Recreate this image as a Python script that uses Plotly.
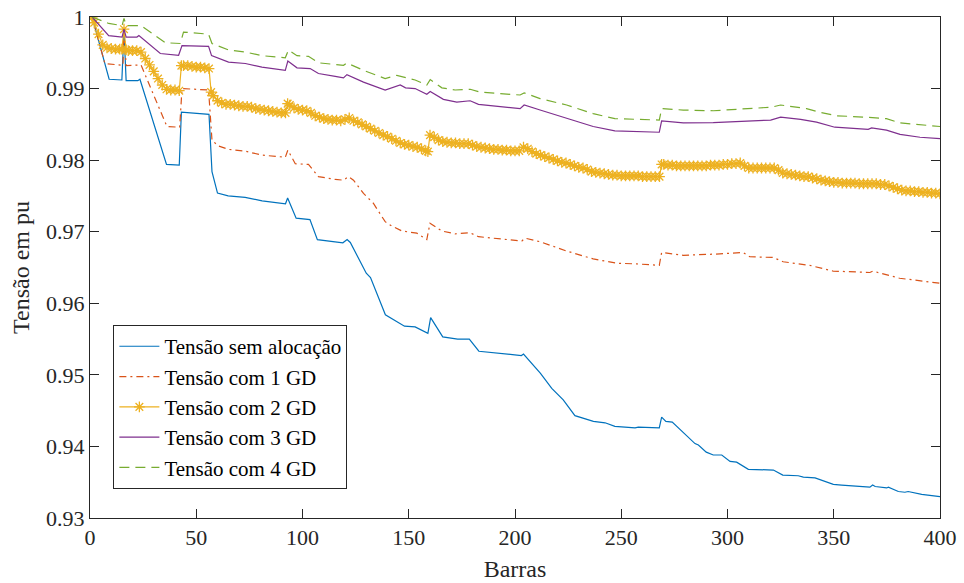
import plotly.graph_objects as go

# (bus, voltage pu)
blue_pts = [(1,1.0),(9,0.9913),(15,0.9912),(16,0.9982),(17,0.9911),(22.5,0.9911),(23.5,0.9913),
    (36,0.9794),(42,0.9793),(43,0.9867),(56,0.9864),(57.4,0.9784),(60,0.9754),(65,0.9750),
    (73,0.9748),(81,0.9743),(92,0.9739),(93,0.9747),(97,0.9719),(103.5,0.9717),(107,0.9689),
    (119,0.96845),(121,0.9689),(122.5,0.9685),(130,0.9642),(132,0.9636),(139,0.9584),(148,0.9568),
    (153,0.9567),(159,0.9558),(160.3,0.9580),(166,0.9553),(173,0.9550),(178.5,0.9550),(183,0.9533),
    (203,0.9527),(204,0.9529),(212,0.9502),(217.3,0.9481),(222.7,0.9465),(228.2,0.9443),
    (236.9,0.9435),(242.4,0.9433),(247,0.9428),(256.5,0.9426),(258,0.9427),(267.9,0.9426),
    (269,0.9441),(271,0.9435),(274,0.9434),(284.7,0.9404),(286.3,0.9402),(290,0.9392),
    (293.3,0.9388),(297.3,0.9388),(301.2,0.9379),(304.3,0.9378),(309.8,0.9368),(321.6,0.9367),
    (326,0.9360),(333.3,0.9359),(335.7,0.9357),(341.2,0.9356),(345.9,0.9351),(349.8,0.9347),
    (353.7,0.9346),(359.2,0.9345),(367,0.9343),(368.3,0.9346),(369.5,0.9344),(374.9,0.9342),
    (375.7,0.9343),(380.4,0.9337),(383.5,0.9336),(385,0.9337),(391.4,0.9333),(400,0.9330)]

red_pts = [(1,1.0),(7,0.9935),(15.5,0.99325),(16,0.9982),(17,0.9932),(24,0.9933),(36.2,0.9847),
    (42.2,0.9846),(43.3,0.9900),(55.8,0.9898),(57.4,0.9828),(60.2,0.9820),(65.2,0.9815),
    (73.1,0.98125),(80.9,0.9807),(91.9,0.9804),(93.1,0.9814),(96.6,0.9795),(102.8,0.9794),
    (107.5,0.9777),(115.4,0.9773),(119.3,0.9772),(121.6,0.9777),(124,0.9772),(128.7,0.97535),
    (133.4,0.97395),(138.9,0.9714),(142,0.9708),(146.8,0.9701),(153.8,0.9698),(158.5,0.9689),
    (160,0.9712),(165.6,0.9701),(171.8,0.9697),(178.9,0.96985),(182.8,0.9693),(203.2,0.9687),
    (204.7,0.9691),(211.8,0.9686),(224.3,0.9673),(236.8,0.9662),(247.8,0.9656),(257.3,0.9655),
    (267.9,0.9653),(269,0.9671),(279.2,0.9667),(296.4,0.9669),(307.4,0.9671),(310.5,0.9665),
    (321.5,0.9664),(326.2,0.9658),(338.7,0.9653),(349.7,0.9645),(367,0.9643),(368.4,0.9645),
    (374.8,0.9640),(381,0.9635),(400,0.9628)]

yellow_pts = [(1,1.0),(2,0.9992),(4,0.9976),(6,0.9961),(8,0.9957),(10,0.9956),(12,0.9955),
    (14,0.9955),(15,0.9955),(16,0.9983),(17,0.9954),(18,0.9953),(20,0.9953),(22,0.9953),
    (24,0.9951),(26,0.9942),(28,0.9933),(30,0.9924),(32,0.9914),(34,0.9905),(36,0.9899),
    (38,0.9898),(40,0.9898),(42,0.9897),(43,0.9932),(44,0.9932),(46,0.9932),(48,0.9931),
    (50,0.9930),(52,0.9930),(54,0.9929),(56,0.9928),(57,0.9895),(58,0.9890),(60,0.9883),
    (62,0.9880),(64,0.9878),(66,0.9878),(68,0.9877),(70,0.9876),(72,0.9875),(74,0.9875),
    (76,0.9874),(78,0.9872),(80,0.9871),(82,0.9870),(84,0.9869),(86,0.9868),(88,0.9867),
    (90,0.9866),(92,0.9866),(93,0.9879),(94,0.9877),(96,0.9873),(98,0.9871),(100,0.9870),
    (102,0.9869),(104,0.9866),(106,0.9862),(108,0.9860),(110,0.9858),(112,0.9857),(114,0.9856),
    (116,0.9856),(118,0.9855),(120,0.9857),(122,0.9859),(124,0.9855),(126,0.9853),(128,0.9850),
    (130,0.9847),(132,0.9844),(134,0.9841),(136,0.9838),(138,0.9835),(140,0.9833),(142,0.9830),
    (144,0.9827),(146,0.9824),(148,0.9822),(150,0.9821),(152,0.9819),(154,0.9818),(156,0.9816),
    (158,0.9813),(159,0.9812),(160,0.9835),(162,0.9832),(164,0.9828),(166,0.9826),(168,0.9825),
    (170,0.9824),(172,0.9824),(174,0.9823),(176,0.9823),(178,0.9823),(180,0.9821),(182,0.9819),
    (184,0.9818),(186,0.9817),(188,0.9816),(190,0.9815),(192,0.9815),(194,0.9814),(196,0.9814),
    (198,0.9813),(200,0.9813),(202,0.9813),(204,0.9818),(206,0.9816),(208,0.9812),(210,0.9809),
    (212,0.9807),(214,0.9805),(216,0.9803),(218,0.9801),(220,0.9799),(222,0.9797),(224,0.9796),
    (226,0.9794),(228,0.9792),(230,0.9790),(232,0.9789),(234,0.9787),(236,0.9784),(238,0.9783),
    (240,0.9782),(242,0.9781),(244,0.9780),(246,0.9779),(248,0.9779),(250,0.9778),(252,0.9778),
    (254,0.9778),(256,0.9778),(258,0.9778),(260,0.9777),(262,0.9777),(264,0.9777),(266,0.9777),
    (268,0.9777),(269,0.9794),(270,0.9794),(272,0.9793),(274,0.9793),(276,0.9792),(278,0.9792),
    (280,0.9792),(282,0.9792),(284,0.9792),(286,0.9792),(288,0.9792),(290,0.9792),(292,0.9793),
    (294,0.9793),(296,0.9793),(298,0.9794),(300,0.9794),(302,0.9795),(304,0.9795),(306,0.9796),
    (308,0.9792),(310,0.9789),(312,0.9789),(314,0.9789),(316,0.9789),(318,0.9789),(320,0.9789),
    (322,0.9789),(324,0.9786),(326,0.9782),(328,0.9781),(330,0.9780),(332,0.9779),(334,0.9778),
    (336,0.9777),(338,0.9777),(340,0.9775),(342,0.9774),(344,0.9772),(346,0.9771),(348,0.9770),
    (350,0.9769),(352,0.9769),(354,0.9768),(356,0.9768),(358,0.9768),(360,0.9768),(362,0.9767),
    (364,0.9767),(366,0.9767),(368,0.9767),(370,0.9767),(372,0.9766),(374,0.9766),(376,0.9764),
    (378,0.9762),(380,0.9760),(382,0.9758),(384,0.9757),(386,0.9757),(388,0.9756),(390,0.9756),
    (392,0.9755),(394,0.9755),(396,0.9754),(398,0.9754),(400,0.9753)]

purple_pts = [(1,1.0),(8.8,0.9974),(15.1,0.9972),(16,0.9983),(17,0.9972),(22.1,0.9972),(23,0.9974),
    (33.1,0.9949),(41.7,0.99465),(43.3,0.9960),(55.8,0.9959),(57.2,0.9946),(65.2,0.9937),
    (73.1,0.9935),(80.9,0.9930),(91.9,0.99255),(93.1,0.99385),(97.4,0.9929),(103.6,0.9928),
    (107.5,0.9921),(115.4,0.9917),(119.3,0.9915),(120.9,0.99195),(128.7,0.9909),(138.9,0.9898),
    (146,0.9905),(148.5,0.9901),(153,0.9900),(158.5,0.9892),(160.1,0.9896),(166.3,0.9885),
    (172.6,0.9881),(178.9,0.9883),(182.8,0.9878),(202.4,0.9872),(204.3,0.9877),(211.8,0.9870),
    (224.3,0.9858),(236.8,0.9847),(247,0.9841),(257.3,0.9840),(267.9,0.9839),(269,0.9855),
    (279.2,0.9852),(293.3,0.98525),(305.8,0.9854),(320.3,0.9856),(325,0.9860),(334.4,0.9857),
    (341.9,0.9853),(350.5,0.9846),(366.2,0.9843),(367.8,0.9845),(374.8,0.9842),(381.2,0.9836),
    (390.6,0.9832),(400,0.9830)]

green_pts = [(1,1.0),(8.8,0.9991),(15.1,0.9988),(16,0.9998),(17,0.9988),(24,0.9988),(35.5,0.9964),
    (42.5,0.9963),(44,0.9979),(55.8,0.9976),(57.4,0.9963),(65.2,0.9954),(73.1,0.9951),
    (80.9,0.9946),(91.9,0.9943),(93.4,0.9954),(97.4,0.9946),(102.8,0.9945),(107.5,0.9936),
    (115.4,0.9934),(119.3,0.99325),(120.9,0.99357),(128.7,0.99255),(138.9,0.9914),(144.4,0.99185),
    (153,0.9912),(158.5,0.9905),(160.1,0.99125),(165.6,0.9901),(171.8,0.9898),(178.9,0.9899),
    (183.6,0.9895),(202.4,0.9891),(204.3,0.9894),(211.8,0.9886),(224.3,0.9877),(236.8,0.9865),
    (247,0.9858),(257.3,0.9857),(267.9,0.9856),(269,0.9872),(279.2,0.9870),(293.3,0.9869),
    (305.8,0.9871),(320.7,0.9874),(325,0.9877),(337.2,0.9872),(343.4,0.9867),(351.3,0.9862),
    (365.4,0.9860),(374.8,0.9858),(381.2,0.9852),(390.6,0.9850),(400,0.9847)]

series_names = ["Tensão sem alocação", "Tensão com 1 GD", "Tensão com 2 GD",
                "Tensão com 3 GD", "Tensão com 4 GD"]
x_ticks = [0, 50, 100, 150, 200, 250, 300, 350, 400]
y_ticks = [0.93, 0.94, 0.95, 0.96, 0.97, 0.98, 0.99, 1.0]
y_tick_labels = ["0.93", "0.94", "0.95", "0.96", "0.97", "0.98", "0.99", "1"]

FONT = "Liberation Serif, Times New Roman, serif"
fig = go.Figure()

def add(pts, name, color, dash="solid", marker=False):
    xs = [p[0] for p in pts]
    ys = [p[1] for p in pts]
    kw = dict(x=xs, y=ys, name=name, line=dict(color=color, width=1.2, dash=dash))
    if marker:
        kw["mode"] = "lines+markers"
        kw["marker"] = dict(symbol="asterisk-open", size=9, color=color,
                            line=dict(color=color, width=1.3))
    else:
        kw["mode"] = "lines"
    fig.add_trace(go.Scatter(**kw))

add(blue_pts, series_names[0], "#0072BD")
add(red_pts, series_names[1], "#D95319", dash="7px,4px,2px,4px")
add(yellow_pts, series_names[2], "#EDB120", marker=True)
add(purple_pts, series_names[3], "#7E2F8E")
add(green_pts, series_names[4], "#77AC30", dash="10px,6px")

axis_common = dict(showline=True, linecolor="#262626", linewidth=1, mirror="ticks",
                   ticks="inside", ticklen=9, tickcolor="#262626", showgrid=False,
                   zeroline=False, automargin=False,
                   tickfont=dict(family=FONT, size=22, color="#262626"))

fig.update_layout(
    width=964, height=583,
    margin=dict(l=90, r=24, t=17, b=65),
    paper_bgcolor="white", plot_bgcolor="white",
    font=dict(family=FONT, size=22, color="#262626"),
    xaxis=dict(range=[0, 400], tickvals=x_ticks,
               title=dict(text="Barras", font=dict(family=FONT, size=24, color="#262626"),
                          standoff=10),
               **axis_common),
    yaxis=dict(range=[0.93, 1.0], tickvals=y_ticks, ticktext=y_tick_labels,
               title=dict(text="Tensão em pu", font=dict(family=FONT, size=24, color="#262626"),
                          standoff=9),
               **axis_common),
    legend=dict(x=0.0275, y=0.385, xanchor="left", yanchor="top",
                bordercolor="#262626", borderwidth=1, bgcolor="white",
                font=dict(family=FONT, size=21, color="black"),
                tracegroupgap=0, itemwidth=40),
    showlegend=True,
)

fig.write_html("out.html", post_script="document.body.style.margin='0';",
               config={"displayModeBar": False})
